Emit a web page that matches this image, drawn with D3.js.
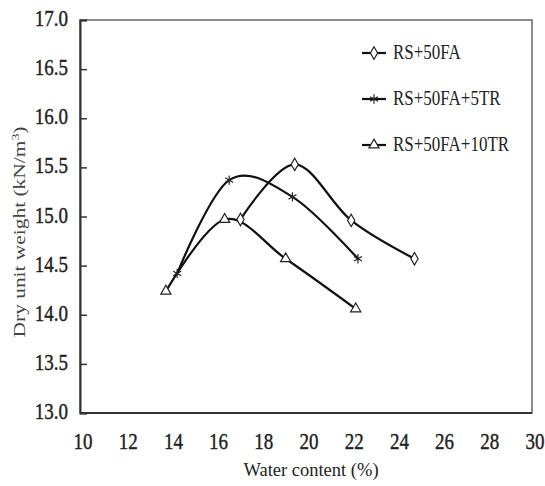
<!DOCTYPE html>
<html>
<head>
<meta charset="utf-8">
<script src="https://cdn.jsdelivr.net/npm/d3@7"></script>
<style>
  body { margin: 0; background: #fff; }
  text { font-family: "Liberation Serif", "Times New Roman", serif; fill: #222; }
</style>
</head>
<body>
<svg id="chart" width="545" height="486"></svg>
<script>
// series: water content (%) vs dry unit weight (kN/m3)
const seriesNames = ["RS+50FA", "RS+50FA+5TR", "RS+50FA+10TR"];
const fa50 = [[17.1, 14.97], [19.5, 15.53], [22.0, 14.96], [24.8, 14.57]];
const fa50tr5 = [[14.3, 14.42], [16.6, 15.37], [19.4, 15.20], [22.3, 14.57]];
const fa50tr10 = [[13.8, 14.24], [16.4, 14.97], [19.1, 14.57], [22.2, 14.06]];
const xTicks = [10, 12, 14, 16, 18, 20, 22, 24, 26, 28, 30];
const yTicks = [13.0, 13.5, 14.0, 14.5, 15.0, 15.5, 16.0, 16.5, 17.0];

function drawChart() {
    const svg = d3.select('#chart');
    const margin = {left: 80, top: 20, right: 13, bottom: 73};
    const width = +svg.attr('width'), height = +svg.attr('height');

    const x = d3.scaleLinear().domain([10, 30]).range([margin.left, width - margin.right]);
    const y = d3.scaleLinear().domain([13, 17]).range([height - margin.bottom, margin.top]);

    // frame
    svg.append('rect')
        .attr('x', x(10)).attr('y', y(17))
        .attr('width', x(30) - x(10)).attr('height', y(13) - y(17))
        .attr('fill', 'none').attr('stroke', '#666').attr('stroke-width', 1.5);

    // y axis with inward ticks
    const yAxis = svg.append('g')
        .attr('transform', 'translate(' + x(10) + ',0)')
        .call(d3.axisRight(y).tickValues(yTicks).tickSize(7).tickFormat(''));
    yAxis.select('.domain').attr('stroke', '#333').attr('stroke-width', 2);
    yAxis.selectAll('.tick line').attr('stroke', '#333').attr('stroke-width', 1.5);

    yTicks.forEach(v => {
        svg.append('text')
            .attr('transform', 'translate(68,' + (y(v) + 6) + ') scale(1,1.18)')
            .attr('text-anchor', 'end')
            .attr('font-size', '19px')
            .style('stroke', '#222').style('stroke-width', 0.35)
            .text(d3.format('.1f')(v));
    });

    // x axis
    svg.append('line')
        .attr('x1', x(10)).attr('x2', x(30))
        .attr('y1', y(13)).attr('y2', y(13))
        .attr('stroke', '#333').attr('stroke-width', 2);

    xTicks.forEach(v => {
        svg.append('text')
            .attr('transform', 'translate(' + (x(v) + 3) + ',' + (y(13) + 36) + ') scale(1,1.18)')
            .attr('text-anchor', 'middle')
            .attr('font-size', '19px')
            .style('stroke', '#222').style('stroke-width', 0.35)
            .text(v);
    });

    // axis titles
    svg.append('text')
        .attr('transform', 'translate(311,476)')
        .attr('text-anchor', 'middle')
        .attr('font-size', '18.5px')
        .text('Water content (%)');

    const yt = svg.append('text')
        .attr('transform', 'translate(25,232) rotate(-90) scale(1.26,1)')
        .attr('text-anchor', 'middle')
        .attr('font-size', '17px')
        .style('fill', '#444');
    yt.append('tspan').text('Dry unit weight (kN/m');
    yt.append('tspan').attr('baseline-shift', 'super').attr('font-size', '11px').text('3');
    yt.append('tspan').text(')');

    const line = d3.line()
        .x(d => x(d[0]))
        .y(d => y(d[1]))
        .curve(d3.curveCatmullRom.alpha(0));

    const symbols = [d3.symbolDiamond, d3.symbolAsterisk, d3.symbolTriangle];
    const data = [fa50, fa50tr5, fa50tr10];

    data.forEach((s, i) => {
        svg.append('path')
            .attr('d', line(s))
            .attr('fill', 'none')
            .attr('stroke', '#111')
            .attr('stroke-width', 2.2);
    });

    data.forEach((s, i) => {
        svg.selectAll('.m' + i)
            .data(s)
            .enter()
            .append('path')
            .attr('class', 'm' + i)
            .attr('transform', d => 'translate(' + x(d[0]) + ',' + y(d[1]) + ')')
            .attr('d', d3.symbol().type(symbols[i]).size(i === 1 ? 60 : 45))
            .attr('fill', i === 1 ? 'none' : '#fff')
            .attr('stroke', '#222')
            .attr('stroke-width', 1.2);
    });

    // legend
    const legY = [53, 99, 145];
    seriesNames.forEach((name, i) => {
        const g = svg.append('g').attr('transform', 'translate(362,' + legY[i] + ')');
        g.append('line')
            .attr('x1', 0).attr('x2', 24)
            .attr('stroke', '#111').attr('stroke-width', 2.2);
        g.append('path')
            .attr('transform', 'translate(12,0)')
            .attr('d', d3.symbol().type(symbols[i]).size(i === 1 ? 60 : 45))
            .attr('fill', i === 1 ? 'none' : '#fff')
            .attr('stroke', '#222').attr('stroke-width', 1.2);
        g.append('text')
            .attr('transform', 'translate(31,6) scale(1,1.22)')
            .attr('font-size', '17px')
            .text(name);
    });
}

drawChart();
</script>
</body>
</html>
